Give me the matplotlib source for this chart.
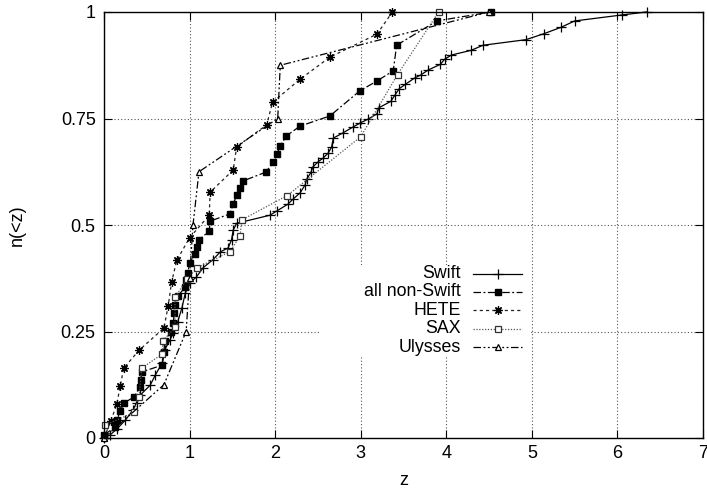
import matplotlib
matplotlib.use("Agg")
import matplotlib.pyplot as plt
from matplotlib.lines import Line2D
from matplotlib.patches import Rectangle

plt.rcParams['font.family'] = ['Liberation Sans', 'DejaVu Sans']

# ---- data ----
swift_z = [0.0, 0.07, 0.15, 0.25, 0.34, 0.38, 0.42, 0.54, 0.60, 0.68, 0.71, 0.77, 0.81, 0.86,
           0.91, 0.95, 1.00, 1.08, 1.16, 1.27, 1.36, 1.45, 1.49, 1.51, 1.55, 1.94, 2.02, 2.15,
           2.21, 2.29, 2.35, 2.37, 2.42, 2.44, 2.50, 2.56, 2.62, 2.66, 2.68, 2.79, 2.91, 2.99,
           3.09, 3.19, 3.21, 3.35, 3.40, 3.45, 3.52, 3.63, 3.70, 3.79, 3.93, 3.98, 4.06, 4.29,
           4.43, 4.93, 5.14, 5.34, 5.50, 6.05, 6.34]
swift_n = [0.0, 0.007, 0.021, 0.042, 0.066, 0.083, 0.100, 0.124, 0.148, 0.176, 0.207, 0.230,
           0.246, 0.272, 0.305, 0.340, 0.364, 0.378, 0.400, 0.418, 0.437, 0.446, 0.465, 0.488,
           0.504, 0.523, 0.533, 0.549, 0.561, 0.575, 0.594, 0.608, 0.624, 0.636, 0.648, 0.657,
           0.669, 0.683, 0.704, 0.716, 0.730, 0.739, 0.749, 0.761, 0.775, 0.790, 0.805, 0.820,
           0.830, 0.845, 0.852, 0.864, 0.877, 0.889, 0.899, 0.910, 0.922, 0.935, 0.949, 0.964,
           0.979, 0.993, 1.0]

nonswift_z = [0.0, 0.13, 0.15, 0.19, 0.23, 0.35, 0.42, 0.43, 0.44, 0.68, 0.70, 0.71, 0.78,
              0.81, 0.82, 0.83, 0.86, 0.95, 0.96, 0.98, 1.00, 1.06, 1.09, 1.11, 1.23, 1.24,
              1.47, 1.51, 1.55, 1.59, 1.62, 1.89, 1.98, 2.02, 2.06, 2.13, 2.29, 2.64, 2.99,
              3.19, 3.38, 3.42, 3.89, 4.52]
nonswift_n = [0.007, 0.026, 0.042, 0.063, 0.082, 0.096, 0.120, 0.136, 0.155, 0.171, 0.202,
              0.228, 0.249, 0.270, 0.293, 0.312, 0.333, 0.354, 0.371, 0.387, 0.410, 0.432,
              0.448, 0.465, 0.486, 0.509, 0.526, 0.549, 0.570, 0.587, 0.603, 0.624, 0.647,
              0.667, 0.685, 0.709, 0.732, 0.756, 0.815, 0.838, 0.862, 0.922, 0.979, 1.0]

hete_z = [0.0, 0.08, 0.15, 0.19, 0.23, 0.41, 0.70, 0.75, 0.79, 0.85, 1.00, 1.23, 1.24, 1.51,
          1.55, 1.90, 1.97, 2.29, 2.64, 3.19, 3.37]
hete_n = [0.0, 0.040, 0.080, 0.122, 0.164, 0.206, 0.258, 0.310, 0.366, 0.417, 0.470, 0.523,
          0.577, 0.629, 0.683, 0.735, 0.788, 0.842, 0.894, 0.948, 1.0]

sax_z = [0.01, 0.35, 0.41, 0.44, 0.68, 0.69, 0.83, 0.83, 0.97, 1.09, 1.47, 1.59, 1.61, 2.14,
         3.00, 3.43, 3.91]
sax_n = [0.030, 0.060, 0.096, 0.164, 0.197, 0.228, 0.260, 0.330, 0.373, 0.400, 0.437, 0.474,
         0.512, 0.569, 0.707, 0.853, 1.0]

ulysses_z = [0.0, 0.70, 0.96, 1.00, 1.04, 1.11, 2.03, 2.06, 4.50]
ulysses_n = [0.0, 0.125, 0.25, 0.375, 0.5, 0.625, 0.75, 0.875, 1.0]

labels = ["Swift", "all non-Swift", "HETE", "SAX", "Ulysses"]
xticks = [0, 1, 2, 3, 4, 5, 6, 7]
yticks = [0, 0.25, 0.5, 0.75, 1]
yticklabels = ["0", "0.25", "0.5", "0.75", "1"]

# ---- figure ----
W, H = 707, 493
AX_L, AX_R, AX_B, AX_T = 104, 703, 438, 12   # pixel box of the axes
fig = plt.figure(figsize=(W / 100, H / 100), dpi=100)
ax = fig.add_axes([AX_L / W, (H - AX_B) / H, (AX_R - AX_L) / W, (AX_B - AX_T) / H])


def fx(px):
    return (px - AX_L) / (AX_R - AX_L)


def fy(py):
    return (AX_B - py) / (AX_B - AX_T)


lw = 0.9
styles = [
    dict(color='black', linestyle='-', marker='+', markersize=6.5, mew=0.9,
         mfc='black', mec='black'),
    dict(color='black', linestyle=(0, (6, 2, 1.5, 2)), marker='s', markersize=5,
         mfc='black', mec='black'),
    dict(color='#222222', linestyle=(0, (2.5, 2.5)), marker=(8, 2, 0), markersize=6, mew=0.9,
         mfc='black', mec='black'),
    dict(color='#555555', linestyle=(0, (1, 1.3)), marker='s', markersize=5, mew=0.9,
         mfc='white', mec='#333333'),
    dict(color='black', linestyle=(0, (6, 2, 1.5, 2, 1.5, 2)), marker='^', markersize=5,
         mew=0.9, mfc='white', mec='black'),
]
series = [(swift_z, swift_n), (nonswift_z, nonswift_n), (hete_z, hete_n),
          (sax_z, sax_n), (ulysses_z, ulysses_n)]

for (zs, ns), st, lab in zip(series, styles, labels):
    ax.plot(zs, ns, lw=lw, clip_on=False, zorder=3, label=lab, **st)

ax.set_xlim(0, 7)
ax.set_ylim(0, 1)
ax.set_xticks(xticks)
ax.set_yticks(yticks)
ax.set_yticklabels(yticklabels)
ax.tick_params(direction='in', length=6, width=0.8, top=True, right=True,
               labelsize=13, colors='black')
ax.tick_params(axis='y', pad=6)
ax.tick_params(axis='x', pad=5)
ax.grid(True, color='#555555', linestyle=(0, (1, 2)), linewidth=0.8)
ax.set_axisbelow(True)
for sp in ax.spines.values():
    sp.set_linewidth(1.0)
    sp.set_color('black')
    sp.set_zorder(4)

ax.set_xlabel("z", fontsize=13, labelpad=7)
ax.set_ylabel("n(<z)", fontsize=13, labelpad=25)

# ---- key (gnuplot style, opaque box) ----
ax.add_patch(Rectangle((fx(320), fy(356)), fx(531) - fx(320), fy(265) - fy(356),
                       transform=ax.transAxes, facecolor='white', edgecolor='none',
                       zorder=2.5))
row0, drow = 273.6, 18.4
for i, (st, lab) in enumerate(zip(styles, labels)):
    yy = fy(row0 + drow * i)
    ax.text(fx(461), yy, lab, transform=ax.transAxes, ha='right', va='center',
            fontsize=12.8, zorder=6)
    st_line = {k: v for k, v in st.items() if k not in ('marker', 'markersize', 'mew',
                                                         'mfc', 'mec')}
    ax.add_line(Line2D([fx(473), fx(522)], [yy, yy], transform=ax.transAxes, lw=lw,
                       zorder=6, **st_line))
    ax.add_line(Line2D([fx(498)], [yy], transform=ax.transAxes, linestyle='none',
                       marker=st['marker'], markersize=st['markersize'], mew=st.get('mew', 1),
                       mfc=st['mfc'], mec=st['mec'], zorder=6))

fig.savefig("out.png", dpi=100)
